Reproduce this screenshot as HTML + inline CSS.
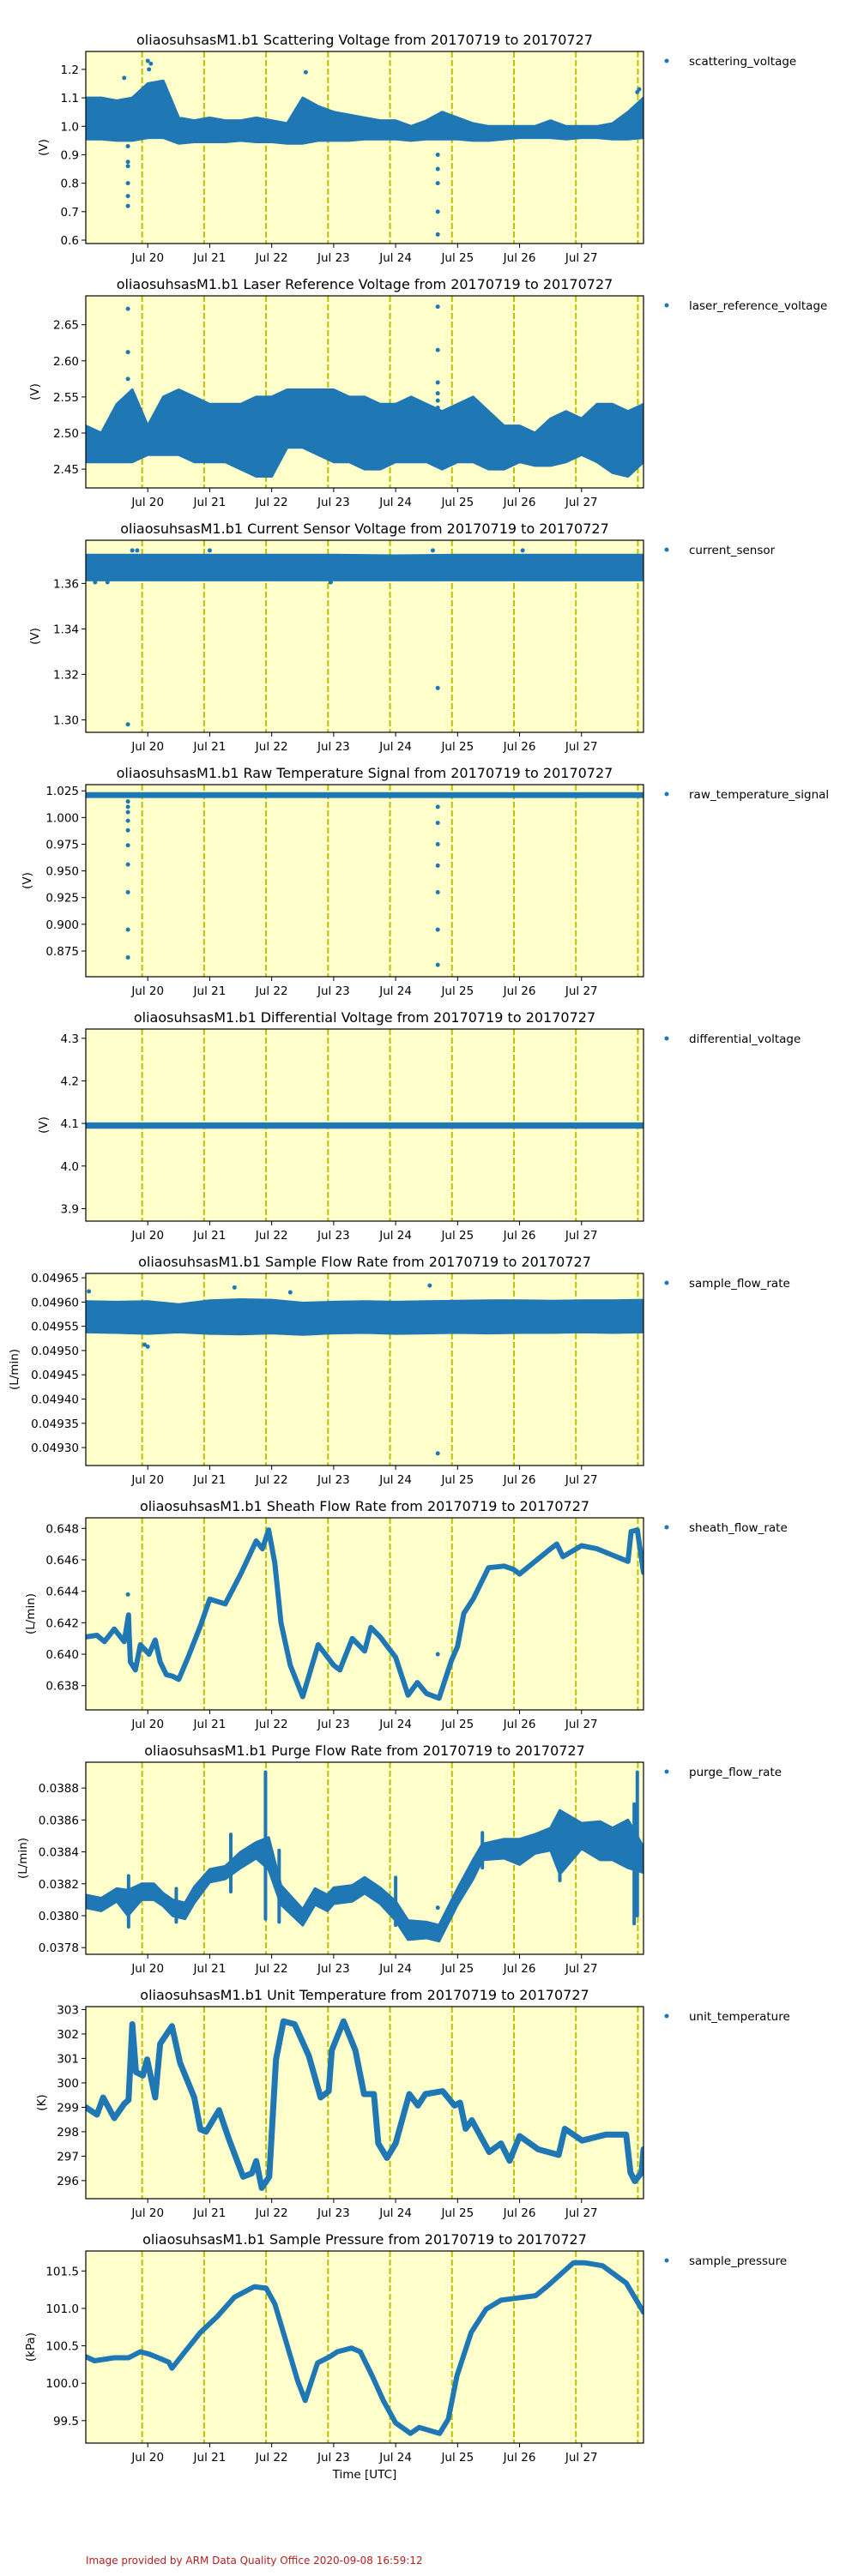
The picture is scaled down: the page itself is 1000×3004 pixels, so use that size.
<!DOCTYPE html>
<html><head><meta charset="utf-8">
<style>
html,body{margin:0;padding:0;background:#fff;}
body{width:1000px;height:3000px;overflow:hidden;font-family:"DejaVu Sans","Liberation Sans",sans-serif;}
svg text{font-family:"DejaVu Sans","Liberation Sans",sans-serif;fill:#000;}
</style></head>
<body>
<svg id="fig" width="1000" height="3000" xmlns="http://www.w3.org/2000/svg">
<text x="100" y="2990" font-size="12" style="fill:#b22222">Image provided by ARM Data Quality Office 2020-09-08 16:59:12</text>
<text x="425" y="2890" font-size="13.5" text-anchor="middle">Time [UTC]</text>
</svg>
<script>
// shared x categories
const xTickLabels = ["Jul 20","Jul 21","Jul 22","Jul 23","Jul 24","Jul 25","Jul 26","Jul 27"];
const xTickDays = [1,2,3,4,5,6,7,8];
const dashDays = [0.909,1.909,2.909,3.909,4.909,5.909,6.909,7.909,8.909];

// Panel 1 scattering voltage
const scatT = [0,0.25,0.5,0.75,1,1.25,1.5,1.75,2,2.25,2.5,2.75,3,3.25,3.5,3.75,4,4.25,4.5,4.75,5,5.25,5.5,5.75,6,6.25,6.5,6.75,7,7.25,7.5,7.75,8,8.25,8.5,8.75,9];
const scatHi = [1.10,1.10,1.09,1.10,1.15,1.16,1.03,1.02,1.03,1.02,1.02,1.03,1.02,1.01,1.10,1.07,1.05,1.04,1.03,1.02,1.02,1.00,1.02,1.05,1.03,1.01,1.00,1.00,1.00,1.00,1.02,1.00,1.00,1.00,1.01,1.05,1.10];
const scatLo = [0.955,0.955,0.95,0.95,0.96,0.96,0.94,0.945,0.945,0.945,0.95,0.945,0.945,0.94,0.94,0.95,0.95,0.95,0.955,0.955,0.955,0.95,0.955,0.955,0.955,0.95,0.95,0.955,0.96,0.96,0.96,0.955,0.96,0.96,0.955,0.955,0.96];
const scatOutT = [0.68,0.68,0.68,0.68,0.68,0.68,0.62,1.0,1.02,1.05,3.55,5.68,5.68,5.68,5.68,5.68,8.9,8.93];
const scatOutV = [0.93,0.875,0.86,0.80,0.755,0.72,1.17,1.23,1.20,1.22,1.19,0.62,0.70,0.80,0.85,0.90,1.12,1.13];

// Panel 2 laser reference voltage
const laserT = scatT;
const laserHi = [2.51,2.50,2.54,2.56,2.51,2.55,2.56,2.55,2.54,2.54,2.54,2.55,2.55,2.56,2.56,2.56,2.56,2.55,2.55,2.54,2.54,2.55,2.54,2.53,2.54,2.55,2.53,2.51,2.51,2.50,2.52,2.53,2.52,2.54,2.54,2.53,2.54];
const laserLo = [2.46,2.46,2.46,2.46,2.47,2.47,2.47,2.46,2.46,2.46,2.45,2.44,2.44,2.48,2.48,2.47,2.46,2.46,2.45,2.45,2.46,2.46,2.46,2.45,2.46,2.46,2.45,2.45,2.46,2.455,2.455,2.46,2.47,2.46,2.445,2.44,2.46];
const laserOutT = [0.68,0.68,0.68,5.68,5.68,5.68,5.68,5.68,5.68];
const laserOutV = [2.672,2.612,2.575,2.675,2.615,2.57,2.555,2.545,2.535];

// Panel 3 current sensor
const curT = [0,1,2,3,4,5,6,7,8,9];
const curHi = [1.3725,1.3725,1.3725,1.3725,1.3725,1.3722,1.3725,1.3725,1.3725,1.3725];
const curLo = [1.3615,1.3615,1.3615,1.3615,1.3615,1.3615,1.3615,1.3615,1.3615,1.3615];
const curOutT = [0.68,5.68,0.75,0.83,2.0,3.95,5.6,7.05,0.15,0.35,3.95];
const curOutV = [1.298,1.314,1.3745,1.3745,1.3745,1.3605,1.3745,1.3745,1.3605,1.3605,1.3605];

// Panel 4 raw temperature
const rawT = [0,9];
const rawHi = [1.0225,1.0225];
const rawLo = [1.0195,1.0195];
const rawOutT = [0.68,0.68,0.68,0.68,0.68,0.68,0.68,0.68,0.68,0.68,5.68,5.68,5.68,5.68,5.68,5.68,5.68];
const rawOutV = [1.015,1.010,1.005,0.997,0.988,0.974,0.956,0.930,0.895,0.869,1.010,0.995,0.975,0.955,0.930,0.895,0.862];

// Panel 5 differential voltage
const diffT = [0,9];
const diffHi = [4.0995,4.0995];
const diffLo = [4.0905,4.0905];

// Panel 6 sample flow rate
const sfT = [0,0.5,1,1.5,2,2.5,3,3.5,4,4.5,5,5.5,6,6.5,7,7.5,8,8.5,9];
const sfHi = [0.049601,0.049600,0.049601,0.049595,0.049603,0.049605,0.049604,0.049598,0.049600,0.049601,0.049600,0.049601,0.049602,0.049603,0.049603,0.049602,0.049603,0.049603,0.049604];
const sfLo = [0.049538,0.049537,0.049535,0.049538,0.049535,0.049534,0.049536,0.049533,0.049536,0.049537,0.049535,0.049536,0.049537,0.049536,0.049537,0.049537,0.049538,0.049537,0.049538];
const sfOutT = [0.95,1.0,5.68,5.55,2.4,3.3,0.05];
const sfOutV = [0.049512,0.049508,0.049288,0.049634,0.049630,0.049620,0.049622];

// Panel 7 sheath flow rate
const shT = [0,0.18,0.3,0.46,0.62,0.69,0.7,0.72,0.8,0.88,1.02,1.12,1.2,1.3,1.4,1.5,1.65,1.85,2.0,2.25,2.5,2.75,2.85,2.95,3.05,3.15,3.3,3.5,3.75,4.0,4.1,4.3,4.5,4.6,4.75,5.0,5.2,5.35,5.5,5.7,5.9,6.0,6.1,6.25,6.5,6.75,6.9,7.0,7.25,7.5,7.6,7.7,8.0,8.25,8.5,8.75,8.8,8.9,9.0];
const shV = [0.6411,0.6412,0.6408,0.6416,0.6408,0.6425,0.6412,0.6395,0.6390,0.6406,0.6400,0.6409,0.6395,0.6387,0.6386,0.6384,0.6398,0.6418,0.6435,0.6432,0.6451,0.6472,0.6467,0.6479,0.6458,0.6420,0.6393,0.6373,0.6406,0.6393,0.6390,0.6410,0.6402,0.6417,0.6411,0.6398,0.6374,0.6382,0.6375,0.6372,0.6396,0.6405,0.6426,0.6435,0.6455,0.6456,0.6454,0.6451,0.6459,0.6467,0.6470,0.6462,0.6469,0.6467,0.6463,0.6459,0.6478,0.6479,0.6452];
const shOutT = [0.68,5.68];
const shOutV = [0.6438,0.6400];

// Panel 8 purge flow rate
const puT = [0,0.25,0.5,0.68,0.9,1.1,1.25,1.4,1.6,1.75,2.0,2.25,2.5,2.75,2.95,3.15,3.5,3.7,3.9,4.0,4.3,4.5,4.75,5.0,5.2,5.5,5.7,6.0,6.25,6.4,6.75,7.0,7.25,7.5,7.65,8.0,8.3,8.5,8.75,9.0];
const puV = [0.03809,0.03807,0.03813,0.03808,0.03815,0.03815,0.03810,0.03805,0.03803,0.03813,0.03825,0.03827,0.03835,0.03841,0.03839,0.03813,0.03799,0.03812,0.03808,0.038125,0.03814,0.03819,0.038125,0.03803,0.03791,0.03791,0.03789,0.03812,0.03829,0.03840,0.03842,0.03840,0.03845,0.03848,0.03846,0.03850,0.03847,0.03845,0.03845,0.03835];
const puHw = [0.00004,0.00004,0.00004,0.00008,0.00005,0.00005,0.00004,0.00005,0.00005,0.00005,0.00004,0.00004,0.00005,0.00005,0.00010,0.00006,0.00005,0.00005,0.00005,0.00005,0.00005,0.00005,0.00005,0.00006,0.00006,0.00005,0.00005,0.00005,0.00006,0.00005,0.00006,0.00008,0.00006,0.00007,0.00020,0.00008,0.00012,0.00010,0.00015,0.00008];
const puSpikeT = [0.69,1.46,2.34,2.9,3.12,5.0,6.4,7.65,8.85,8.9];
const puSpikeLo = [0.03793,0.03796,0.03815,0.03798,0.03796,0.03794,0.03830,0.03822,0.03795,0.03800];
const puSpikeHi = [0.03825,0.03817,0.03851,0.03890,0.03841,0.03824,0.03852,0.03862,0.03870,0.03890];

// Panel 9 unit temperature
const utT = [0,0.18,0.28,0.46,0.62,0.69,0.75,0.81,0.92,0.99,1.12,1.2,1.39,1.52,1.75,1.85,1.94,2.15,2.31,2.54,2.68,2.75,2.84,2.96,3.07,3.19,3.37,3.6,3.79,3.92,3.97,4.16,4.35,4.49,4.65,4.72,4.86,5.0,5.22,5.36,5.48,5.76,5.95,6.04,6.13,6.23,6.51,6.7,6.84,7.0,7.3,7.63,7.73,8.01,8.39,8.72,8.79,8.86,8.97,9.0];
const utV = [299.0,298.7,299.4,298.56,299.14,299.3,302.4,300.44,300.3,300.96,299.4,301.6,302.32,300.83,299.4,298.1,298.0,298.88,297.7,296.16,296.3,296.8,295.7,296.16,300.96,302.52,302.4,301.1,299.4,299.66,301.33,302.52,301.33,299.54,299.54,297.52,296.93,297.52,299.54,299.07,299.54,299.66,299.07,299.19,298.12,298.47,297.17,297.52,296.81,297.82,297.28,297.05,298.12,297.64,297.88,297.88,296.33,295.98,296.33,297.28];

// Panel 10 sample pressure
const spT = [0,0.14,0.46,0.69,0.88,1.02,1.2,1.34,1.39,1.57,1.85,2.12,2.4,2.72,2.91,3.05,3.23,3.42,3.54,3.74,3.93,4.06,4.29,4.43,4.62,4.8,5.0,5.24,5.38,5.71,5.85,5.99,6.22,6.46,6.7,7.26,7.45,7.87,8.05,8.34,8.72,9.0];
const spV = [100.355,100.30,100.34,100.34,100.42,100.39,100.33,100.28,100.2,100.39,100.68,100.89,101.15,101.29,101.27,101.06,100.56,100.03,99.77,100.27,100.35,100.42,100.47,100.42,100.10,99.77,99.47,99.33,99.41,99.33,99.52,100.10,100.68,100.99,101.11,101.17,101.3,101.61,101.61,101.57,101.34,100.95];

const panels = [
 {name:"scattering-voltage",title:"oliaosuhsasM1.b1 Scattering Voltage from 20170719 to 20170727",legend:"scattering_voltage",unit:"(V)",ylx:55,ymin:0.588,ymax:1.263,ticks:[0.6,0.7,0.8,0.9,1.0,1.1,1.2],tlabels:["0.6","0.7","0.8","0.9","1.0","1.1","1.2"],kind:"band",t:scatT,hi:scatHi,lo:scatLo,ot:scatOutT,ov:scatOutV},
 {name:"laser-reference-voltage",title:"oliaosuhsasM1.b1 Laser Reference Voltage from 20170719 to 20170727",legend:"laser_reference_voltage",unit:"(V)",ylx:45,ymin:2.424,ymax:2.690,ticks:[2.45,2.5,2.55,2.6,2.65],tlabels:["2.45","2.50","2.55","2.60","2.65"],kind:"band",t:laserT,hi:laserHi,lo:laserLo,ot:laserOutT,ov:laserOutV},
 {name:"current-sensor",title:"oliaosuhsasM1.b1 Current Sensor Voltage from 20170719 to 20170727",legend:"current_sensor",unit:"(V)",ylx:45,ymin:1.2945,ymax:1.379,ticks:[1.30,1.32,1.34,1.36],tlabels:["1.30","1.32","1.34","1.36"],kind:"band",t:curT,hi:curHi,lo:curLo,ot:curOutT,ov:curOutV},
 {name:"raw-temperature-signal",title:"oliaosuhsasM1.b1 Raw Temperature Signal from 20170719 to 20170727",legend:"raw_temperature_signal",unit:"(V)",ylx:36,ymin:0.8509,ymax:1.0308,ticks:[0.875,0.9,0.925,0.95,0.975,1.0,1.025],tlabels:["0.875","0.900","0.925","0.950","0.975","1.000","1.025"],kind:"band",t:rawT,hi:rawHi,lo:rawLo,ot:rawOutT,ov:rawOutV},
 {name:"differential-voltage",title:"oliaosuhsasM1.b1 Differential Voltage from 20170719 to 20170727",legend:"differential_voltage",unit:"(V)",ylx:55,ymin:3.8706,ymax:4.3218,ticks:[3.9,4.0,4.1,4.2,4.3],tlabels:["3.9","4.0","4.1","4.2","4.3"],kind:"band",t:diffT,hi:diffHi,lo:diffLo,ot:[],ov:[]},
 {name:"sample-flow-rate",title:"oliaosuhsasM1.b1 Sample Flow Rate from 20170719 to 20170727",legend:"sample_flow_rate",unit:"(L/min)",ylx:21,ymin:0.049263,ymax:0.049659,ticks:[0.0493,0.04935,0.0494,0.04945,0.0495,0.04955,0.0496,0.04965],tlabels:["0.04930","0.04935","0.04940","0.04945","0.04950","0.04955","0.04960","0.04965"],kind:"band",t:sfT,hi:sfHi,lo:sfLo,ot:sfOutT,ov:sfOutV},
 {name:"sheath-flow-rate",title:"oliaosuhsasM1.b1 Sheath Flow Rate from 20170719 to 20170727",legend:"sheath_flow_rate",unit:"(L/min)",ylx:40,ymin:0.63646,ymax:0.64867,ticks:[0.638,0.64,0.642,0.644,0.646,0.648],tlabels:["0.638","0.640","0.642","0.644","0.646","0.648"],kind:"line",t:shT,v:shV,w:6,ot:shOutT,ov:shOutV},
 {name:"purge-flow-rate",title:"oliaosuhsasM1.b1 Purge Flow Rate from 20170719 to 20170727",legend:"purge_flow_rate",unit:"(L/min)",ylx:31,ymin:0.037758,ymax:0.038962,ticks:[0.0378,0.038,0.0382,0.0384,0.0386,0.0388],tlabels:["0.0378","0.0380","0.0382","0.0384","0.0386","0.0388"],kind:"hw",t:puT,v:puV,hw:puHw,st:puSpikeT,slo:puSpikeLo,shi:puSpikeHi,ot:[5.68],ov:[0.03805]},
 {name:"unit-temperature",title:"oliaosuhsasM1.b1 Unit Temperature from 20170719 to 20170727",legend:"unit_temperature",unit:"(K)",ylx:53,ymin:295.26,ymax:303.12,ticks:[296,297,298,299,300,301,302,303],tlabels:["296","297","298","299","300","301","302","303"],kind:"line",t:utT,v:utV,w:7,ot:[],ov:[]},
 {name:"sample-pressure",title:"oliaosuhsasM1.b1 Sample Pressure from 20170719 to 20170727",legend:"sample_pressure",unit:"(kPa)",ylx:40,ymin:99.20,ymax:101.767,ticks:[99.5,100,100.5,101,101.5],tlabels:["99.5","100.0","100.5","101.0","101.5"],kind:"line",t:spT,v:spV,w:6,ot:[],ov:[]}
];

const NS = "http://www.w3.org/2000/svg";
const svg = document.getElementById("fig");
const X0 = 100, X1 = 750, TMAX = 9, BLUE = "#1f77b4";
function xs(t){ return X0 + t*(X1-X0)/TMAX; }
function mk(tag, attrs, parent){
  const e = document.createElementNS(NS, tag);
  for (const k in attrs) e.setAttribute(k, attrs[k]);
  parent.appendChild(e);
  return e;
}

panels.forEach((p, k) => {
  const top = 60 + 285*k, bot = top + 224;
  const ys = v => bot - (v - p.ymin)/(p.ymax - p.ymin)*224;
  const g = mk("g", {}, svg);
  
  
  const clipId = "clip" + k;
  const cp = mk("clipPath", {id: clipId}, g);
  mk("rect", {x:X0, y:top, width:X1-X0, height:224}, cp);

  const bg = mk("rect", {x:X0, y:top, width:X1-X0, height:224, fill:"#ffffcc"}, g);
  
  

  const plot = mk("g", {"clip-path":"url(#"+clipId+")"}, g);
  dashDays.forEach(d => {
    const l = mk("line", {x1:xs(d), x2:xs(d), y1:top, y2:bot, stroke:"#bfbf00", "stroke-width":2, "stroke-dasharray":"7,3"}, plot);
    
    
  });

  if (p.kind === "band") {
    let d = "";
    p.t.forEach((t,i) => { d += (i?"L":"M") + xs(t).toFixed(1) + "," + ys(p.hi[i]).toFixed(1); });
    for (let i = p.t.length-1; i >= 0; i--) d += "L" + xs(p.t[i]).toFixed(1) + "," + ys(p.lo[i]).toFixed(1);
    const path = mk("path", {d: d+"Z", fill:BLUE, stroke:BLUE, "stroke-width":3, "stroke-linejoin":"round"}, plot);
    
    
  } else if (p.kind === "line") {
    let d = "";
    p.t.forEach((t,i) => { d += (i?"L":"M") + xs(t).toFixed(1) + "," + ys(p.v[i]).toFixed(1); });
    const path = mk("path", {d: d, fill:"none", stroke:BLUE, "stroke-width":p.w, "stroke-linejoin":"round", "stroke-linecap":"round"}, plot);
    
    
  } else if (p.kind === "hw") {
    let d = "";
    p.t.forEach((t,i) => { d += (i?"L":"M") + xs(t).toFixed(1) + "," + ys(p.v[i]+p.hw[i]).toFixed(1); });
    for (let i = p.t.length-1; i >= 0; i--) d += "L" + xs(p.t[i]).toFixed(1) + "," + ys(p.v[i]-p.hw[i]).toFixed(1);
    const path = mk("path", {d: d+"Z", fill:BLUE, stroke:BLUE, "stroke-width":3, "stroke-linejoin":"round"}, plot);
    
    
    p.st.forEach((t,i) => {
      const s = mk("line", {x1:xs(t), x2:xs(t), y1:ys(p.slo[i]), y2:ys(p.shi[i]), stroke:BLUE, "stroke-width":4, "stroke-linecap":"round"}, plot);
      
      
    });
  }
  p.ot.forEach((t,i) => {
    const c = mk("circle", {cx:xs(t), cy:ys(p.ov[i]), r:2.5, fill:BLUE}, plot);
    
    
  });

  const frame = mk("rect", {x:X0, y:top, width:X1-X0, height:224, fill:"none", stroke:"#000", "stroke-width":1.2}, g);
  
  

  p.ticks.forEach((v,i) => {
    const y = ys(v);
    const tk = mk("line", {x1:X0-5, x2:X0, y1:y, y2:y, stroke:"#000", "stroke-width":1}, g);
    
    
    const tl = mk("text", {x:X0-8, y:y+5, "font-size":13.5, "text-anchor":"end"}, g);
    tl.textContent = p.tlabels[i];
    
    
  });
  xTickDays.forEach((d,i) => {
    const x = xs(d);
    const tk = mk("line", {x1:x, x2:x, y1:bot, y2:bot+5, stroke:"#000", "stroke-width":1}, g);
    
    
    const tl = mk("text", {x:x, y:bot+21, "font-size":13.5, "text-anchor":"middle"}, g);
    tl.textContent = xTickLabels[i];
    
    
  });

  const ti = mk("text", {x:425, y:top-8, "font-size":16, "text-anchor":"middle"}, g);
  ti.textContent = p.title;
  
  

  const yl = mk("text", {x:p.ylx, y:top+112, "font-size":13.5, "text-anchor":"middle", transform:"rotate(-90 "+p.ylx+" "+(top+112)+")"}, g);
  yl.textContent = p.unit;
  
  

  const lg = mk("g", {}, g);
  
  
  mk("circle", {cx:777, cy:top+11, r:2.5, fill:BLUE}, lg);
  const lt = mk("text", {x:803, y:top+16, "font-size":13.5}, lg);
  lt.textContent = p.legend;
});
</script>
</body></html>
